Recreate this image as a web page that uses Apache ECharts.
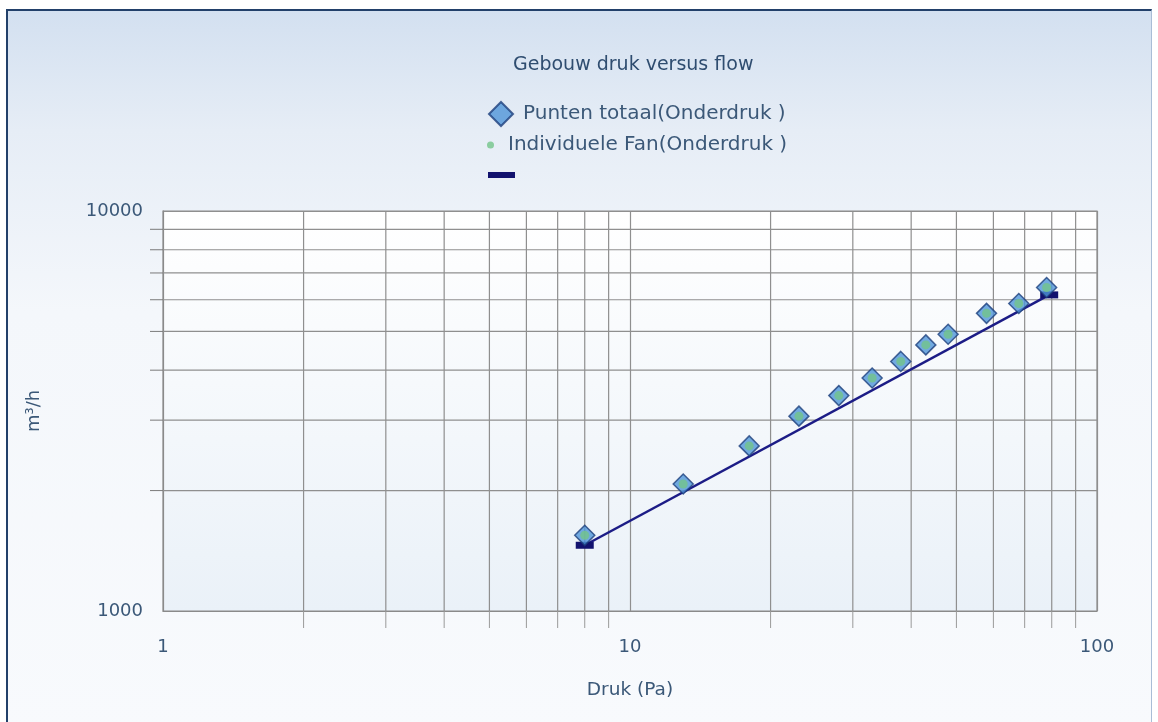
<!DOCTYPE html>
<html>
<head>
<meta charset="utf-8">
<script src="https://cdn.jsdelivr.net/npm/echarts@6/dist/echarts.min.js"></script>
<style>
html,body{margin:0;padding:0;width:1158px;height:722px;overflow:hidden;background:#ffffff;}
#frame{position:absolute;left:6px;top:9px;width:1143px;height:713px;border-top:2px solid #22406a;border-left:2px solid #22406a;border-right:1px solid #a9bdd6;
background:linear-gradient(to bottom,#d3e0f0 0px,#e6edf6 120px,#f4f7fb 300px,#f8fafd 722px);}
#chart{position:absolute;left:0;top:0;width:1158px;height:722px;}
</style>
</head>
<body>
<div id="frame"></div>
<div id="chart"></div>
<script>
// ---- data ----
const titleText = 'Gebouw druk versus flow';
const seriesNames = ['Punten totaal(Onderdruk )', 'Individuele Fan(Onderdruk )', ' '];
const pressure = [8, 13, 18, 23, 28, 33, 38, 43, 48, 58, 68, 78];
const flowTotal = [1546, 2077, 2587, 3070, 3455, 3823, 4207, 4627, 4918, 5548, 5872, 6437];
const flowFan   = [1546, 2077, 2587, 3070, 3455, 3823, 4207, 4627, 4918, 5548, 5872, 6437];
const fitPressure = [8, 79];
const fitFlow = [1460, 6170];
const xMinorTicks = [2, 3, 4, 5, 6, 7, 8, 9, 20, 30, 40, 50, 60, 70, 80, 90];
const yMinorTicks = [2000, 3000, 4000, 5000, 6000, 7000, 8000, 9000];
const xRange = [1, 100];
const yRange = [1000, 10000];

const FONT = 'DejaVu Sans';
const TXT = '#3b5878';
const GRIDC = '#8f8f8f';

const chart = echarts.init(document.getElementById('chart'), null, {renderer: 'canvas'});

function vLines(params, api) {
  const v = api.value(0);
  const top = api.coord([v, yRange[1]]);
  const bot = api.coord([v, yRange[0]]);
  return {
    type: 'group',
    children: [
      {type: 'line', shape: {x1: top[0], y1: top[1], x2: bot[0], y2: bot[1]}, style: {stroke: GRIDC, lineWidth: 1.2}},
      {type: 'line', shape: {x1: bot[0], y1: bot[1], x2: bot[0], y2: bot[1] + 17}, style: {stroke: '#9a9a9a', lineWidth: 1}}
    ]
  };
}
function hLines(params, api) {
  const v = api.value(1);
  const l = api.coord([xRange[0], v]);
  const r = api.coord([xRange[1], v]);
  return {
    type: 'group',
    children: [
      {type: 'line', shape: {x1: l[0], y1: l[1], x2: r[0], y2: r[1]}, style: {stroke: GRIDC, lineWidth: 1.2}},
      {type: 'line', shape: {x1: l[0] - 13, y1: l[1], x2: l[0], y2: l[1]}, style: {stroke: '#7a7a7a', lineWidth: 1}}
    ]
  };
}

const option = {
  backgroundColor: 'transparent',
  animation: false,
  title: {
    text: titleText,
    left: 508,
    top: 51,
    textStyle: {fontFamily: FONT, fontSize: 19, fontWeight: 'normal', color: '#2f4d70'}
  },
  legend: [
    {
      data: [{name: seriesNames[0], icon: 'diamond'}],
      left: 488, top: 101, padding: 0, itemWidth: 24, itemHeight: 24,
      textStyle: {fontFamily: FONT, fontSize: 20, color: TXT, padding: [0, 0, 0, 5]}, selectedMode: false
    },
    {
      data: [{name: seriesNames[1], icon: 'circle'}],
      left: 487, top: 135, padding: 0, itemWidth: 7, itemHeight: 7,
      textStyle: {fontFamily: FONT, fontSize: 20, color: TXT, padding: [0, 0, 0, 9]}, selectedMode: false
    },
    {
      data: [{name: seriesNames[2], icon: 'rect'}],
      left: 488, top: 165, padding: 0, itemWidth: 27, itemHeight: 6,
      textStyle: {fontFamily: FONT, fontSize: 20, color: TXT}, selectedMode: false
    }
  ],
  grid: {
    left: 163, right: 61, top: 211, bottom: 111,
    show: true,
    borderColor: '#8a8a8a', borderWidth: 1.2,
    backgroundColor: new echarts.graphic.LinearGradient(0, 0, 0, 1, [
      {offset: 0, color: '#ffffff'}, {offset: 1, color: '#eaf1f8'}
    ])
  },
  xAxis: {
    type: 'log', logBase: 10, min: xRange[0], max: xRange[1],
    name: 'Druk (Pa)', nameLocation: 'middle', nameGap: 70,
    nameTextStyle: {fontFamily: FONT, fontSize: 18.5, color: TXT},
    axisLine: {show: true, lineStyle: {color: '#8a8a8a'}},
    axisTick: {show: false},
    splitLine: {show: true, lineStyle: {color: GRIDC, width: 1.2}},
    axisLabel: {fontFamily: FONT, fontSize: 18, color: TXT, margin: 27}
  },
  yAxis: {
    type: 'log', logBase: 10, min: yRange[0], max: yRange[1],
    name: 'm³/h', nameLocation: 'middle', nameGap: 120, nameRotate: 90,
    nameTextStyle: {fontFamily: FONT, fontSize: 18, color: TXT},
    axisLine: {show: true, lineStyle: {color: '#8a8a8a'}},
    axisTick: {show: false},
    splitLine: {show: true, lineStyle: {color: GRIDC, width: 1.2}},
    axisLabel: {fontFamily: FONT, fontSize: 18, color: TXT, margin: 20, formatter: v => String(Math.round(v))}
  },
  series: [
    {
      type: 'custom', silent: true, renderItem: vLines, clip: false, z: 1,
      data: xMinorTicks.map(v => [v, yRange[0]]), encode: {x: 0, y: 1}
    },
    {
      type: 'custom', silent: true, renderItem: hLines, clip: false, z: 1,
      data: yMinorTicks.map(v => [xRange[0], v]), encode: {x: 0, y: 1}
    },
    {
      name: seriesNames[2], type: 'line', z: 3,
      data: fitPressure.map((p, i) => [p, fitFlow[i]]),
      symbol: 'rect', symbolSize: [18, 7], showAllSymbol: true,
      lineStyle: {color: '#1c1c86', width: 2.5},
      itemStyle: {color: '#12126e'}
    },
    {
      name: seriesNames[0], type: 'scatter', z: 4,
      data: pressure.map((p, i) => [p, flowTotal[i]]),
      symbol: 'diamond', symbolSize: 20,
      itemStyle: {color: '#4f95d8', borderColor: '#1d3f7c', borderWidth: 1.5}
    },
    {
      name: seriesNames[1], type: 'scatter', z: 5,
      data: pressure.map((p, i) => [p, flowFan[i]]),
      symbol: 'circle', symbolSize: 9,
      itemStyle: {color: '#73c48a'}
    }
  ]
};
chart.setOption(option);
</script>
</body>
</html>
